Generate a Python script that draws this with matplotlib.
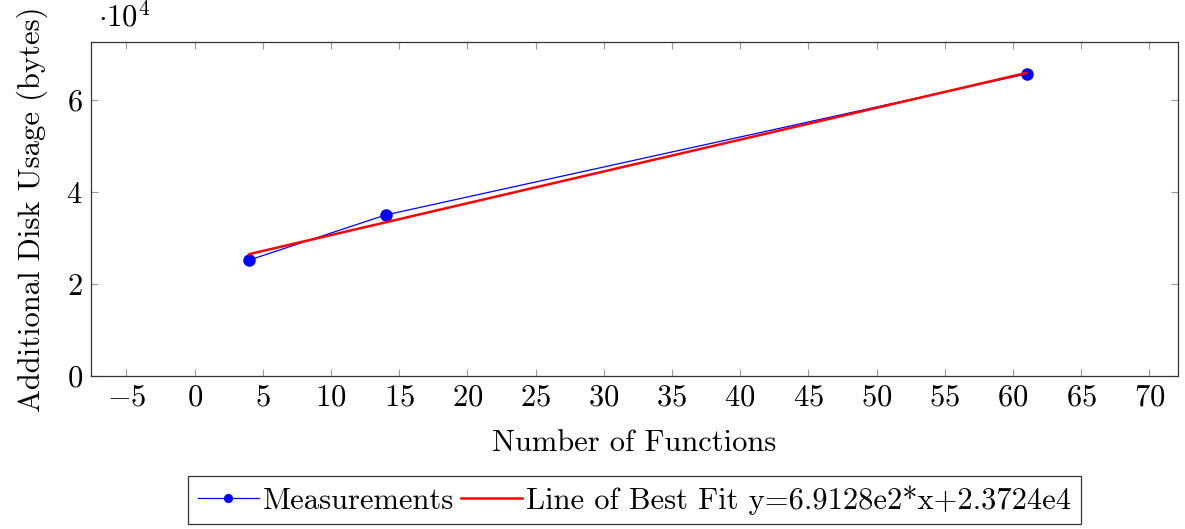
import numpy as np
import matplotlib
matplotlib.use("Agg")
import matplotlib.pyplot as plt

plt.rcParams['font.family'] = 'serif'
plt.rcParams['font.serif'] = ['cmr10']
plt.rcParams['mathtext.fontset'] = 'cm'
plt.rcParams['axes.formatter.use_mathtext'] = True
plt.rcParams['axes.unicode_minus'] = True

# measured data
n_functions = [4, 14, 61]
disk_usage = [25200, 35000, 65650]

# line of best fit
slope = 6.9128e2
intercept = 2.3724e4
fit_label = "Line of Best Fit y=6.9128e2*x+2.3724e4"

x_ticks = list(range(-5, 75, 5))
y_ticks = [0, 20000, 40000, 60000]

fig = plt.figure(figsize=(11.85, 5.29), dpi=100)
ax = fig.add_axes([91 / 1185, 1 - 376 / 529, (1178 - 91) / 1185, (376 - 42) / 529])

fs = 22

ax.plot(n_functions, disk_usage, color='blue', lw=0.9, marker='o', ms=8,
        label='Measurements')
fx = np.array([min(n_functions), max(n_functions)])
ax.plot(fx, slope * fx + intercept, color='red', lw=1.8, label=fit_label)

ax.set_xlim(-7.6, 72.1)
ax.set_ylim(0, 72600)
ax.set_xticks(x_ticks)
ax.set_xticklabels([r'$%d$' % v for v in x_ticks], fontsize=fs)
ax.set_yticks(y_ticks)
ax.set_yticklabels([r'$%d$' % (v // 10000) for v in y_ticks], fontsize=fs)
ax.tick_params(direction='in', length=5, width=0.8, color='#999999',
               top=True, right=True, pad=6)
for s in ax.spines.values():
    s.set_linewidth(0.9)
    s.set_color('#333333')

ax.text(0.006, 1.03, r'$\cdot 10^4$', transform=ax.transAxes, fontsize=fs,
        ha='left', va='bottom')

ax.set_xlabel('Number of Functions', fontsize=fs, labelpad=13)
ax.set_ylabel('Additional Disk Usage (bytes)', fontsize=fs, labelpad=13)

leg = ax.legend(loc='upper center', bbox_to_anchor=(0.5, -0.3), ncol=2,
                fontsize=fs, frameon=True, fancybox=False, edgecolor='black',
                handlelength=2.0, handletextpad=0.15, columnspacing=0.2,
                borderpad=0.3, borderaxespad=0, markerscale=0.7)
leg.get_frame().set_linewidth(0.9)

fig.savefig('out.png', dpi=100)
